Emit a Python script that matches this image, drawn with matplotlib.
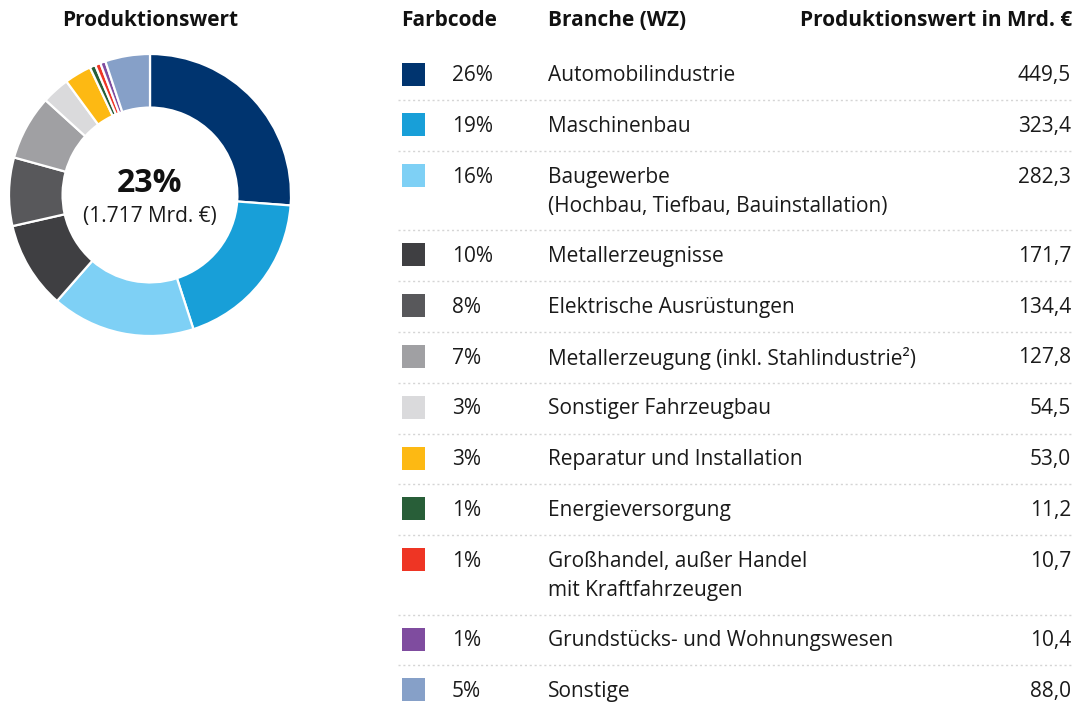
import matplotlib
matplotlib.use('Agg')
import matplotlib.pyplot as plt
from matplotlib.patches import Rectangle

plt.rcParams['font.family'] = ['Open Sans', 'DejaVu Sans']

# data
branches = [
    'Automobilindustrie',
    'Maschinenbau',
    'Baugewerbe\n(Hochbau, Tiefbau, Bauinstallation)',
    'Metallerzeugnisse',
    'Elektrische Ausrüstungen',
    'Metallerzeugung (inkl. Stahlindustrie²)',
    'Sonstiger Fahrzeugbau',
    'Reparatur und Installation',
    'Energieversorgung',
    'Großhandel, außer Handel\nmit Kraftfahrzeugen',
    'Grundstücks- und Wohnungswesen',
    'Sonstige',
]
values = [449.5, 323.4, 282.3, 171.7, 134.4, 127.8, 54.5, 53.0, 11.2, 10.7, 10.4, 88.0]
shares = ['26%', '19%', '16%', '10%', '8%', '7%', '3%', '3%', '1%', '1%', '1%', '5%']
colors = ['#00346f', '#189fd8', '#7ed0f5', '#3f3f42', '#58585b', '#a0a0a3',
          '#dadadc', '#fdb913', '#285e38', '#ee3524', '#7f4c9f', '#86a0c8']
center_share = '23%'
center_total = '(1.717 Mrd. €)'

W, H = 1080, 704
fig = plt.figure(figsize=(W / 100, H / 100), dpi=100)

# donut, centre (150, 195) px, radius 141 px
cx, cy, r = 150, 195, 141
ax = fig.add_axes([(cx - r) / W, (H - cy - r) / H, 2 * r / W, 2 * r / H])
ax.pie(values, colors=colors, startangle=90, counterclock=False, radius=1,
       wedgeprops=dict(width=0.38, edgecolor='white', linewidth=1.6))
ax.set_xlim(-1, 1)
ax.set_ylim(-1, 1)
ax.set_aspect('equal')
ax.axis('off')
ax.text(0, 0.08, center_share, ha='center', va='center', fontsize=23,
        fontweight='bold', color='#111111')
ax.text(0, -0.155, center_total, ha='center', va='center', fontsize=15,
        color='#1a1a1a')

# table overlay in pixel coords
tx = fig.add_axes([0, 0, 1, 1])
tx.set_xlim(0, W)
tx.set_ylim(H, 0)
tx.axis('off')

fs = 15
head = dict(fontsize=fs, fontweight='bold', color='#111111', va='center')
tx.text(150, 21, 'Produktionswert', ha='center', **head)
tx.text(401, 21, 'Farbcode', ha='left', **head)
tx.text(548, 21, 'Branche (WZ)', ha='left', **head)
tx.text(1072, 21, 'Produktionswert in Mrd. €', ha='right', **head)

body = dict(fontsize=fs, color='#1a1a1a', va='center')
top = 49.5
single, extra = 50.8, 28.5
for i, (name, val, sh, col) in enumerate(zip(branches, values, shares, colors)):
    lines = name.split('\n')
    yc = top + 25
    tx.add_patch(Rectangle((402, yc - 12), 23, 23, facecolor=col, edgecolor='none'))
    for k, ln in enumerate(lines):
        tx.text(548, yc + 1 + k * 29, ln, ha='left', **body)
    tx.text(452, yc + 1, sh, ha='left', **body)
    tx.text(1071, yc + 1, f'{val:.1f}'.replace('.', ','), ha='right', **body)
    top += single + extra * (len(lines) - 1)
    if i < len(branches) - 1:
        tx.plot([398, 1072], [top, top], color='#d5d5d5', linewidth=1,
                linestyle=(0, (1.5, 2)))

fig.savefig('out.png', dpi=100, facecolor='white')
